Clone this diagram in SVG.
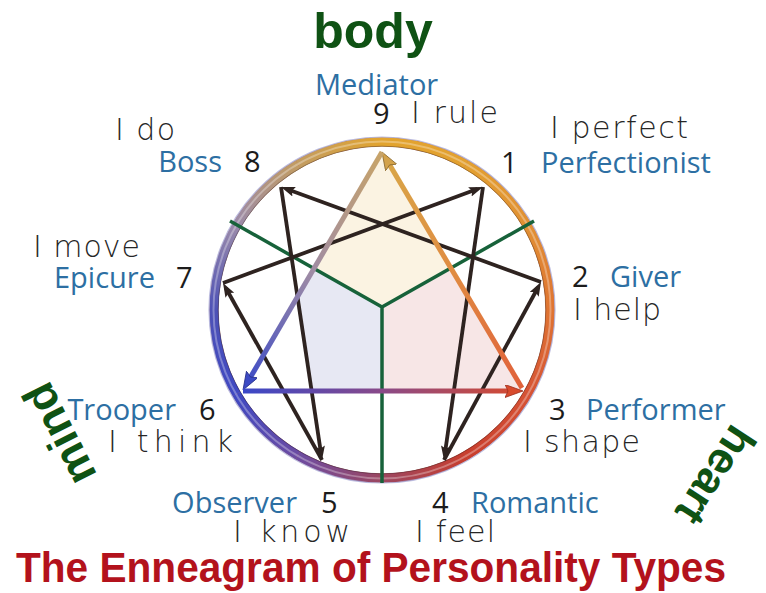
<svg xmlns="http://www.w3.org/2000/svg" width="766" height="593" viewBox="0 0 766 593">
<style>
.lbl{font-family:"Open Sans","Liberation Sans",sans-serif;font-size:29px;fill:#2d6fa3}
.num{font-family:"Open Sans","Liberation Sans",sans-serif;font-size:29px;fill:#1c1c1c}
.hw{font-family:"DejaVu Sans","Liberation Sans",sans-serif;font-weight:200;font-size:30px;fill:#262626}
.big{font-family:"Liberation Sans","Open Sans",sans-serif;font-weight:bold;fill:#0f5214}
.hex{fill:none;stroke:#2e2320;stroke-width:3.8;marker-end:url(#ah)}
.tri{fill:none;stroke-width:5}
.seg{fill:none;stroke-width:9}
</style>
<defs>
<marker id="ah" markerUnits="userSpaceOnUse" markerWidth="16" markerHeight="12" refX="8" refY="5" orient="auto"><path d="M0,0 L14,5 L0,10 L2.5,5 z" fill="#2e2320"/></marker>
<marker id="ahGold" markerUnits="userSpaceOnUse" markerWidth="20" markerHeight="14" refX="10" refY="6.5" orient="auto"><path d="M0,0 L18,6.5 L0,13 L3,6.5 z" fill="#d3a24a" stroke="#8a6a30" stroke-width="0.8"/></marker>
<marker id="ahBlue" markerUnits="userSpaceOnUse" markerWidth="20" markerHeight="14" refX="10" refY="6.5" orient="auto"><path d="M0,0 L18,6.5 L0,13 L3,6.5 z" fill="#3c4ac4" stroke="#28308a" stroke-width="0.8"/></marker>
<marker id="ahRed" markerUnits="userSpaceOnUse" markerWidth="20" markerHeight="14" refX="10" refY="6.5" orient="auto"><path d="M0,0 L18,6.5 L0,13 L3,6.5 z" fill="#d84a2c" stroke="#9a3020" stroke-width="0.8"/></marker>
<linearGradient id="g39" gradientUnits="userSpaceOnUse" x1="522" y1="388" x2="382" y2="152"><stop offset="0" stop-color="#e0603a"/><stop offset="0.5" stop-color="#e08c42"/><stop offset="1" stop-color="#d8a848"/></linearGradient>
<linearGradient id="g96" gradientUnits="userSpaceOnUse" x1="382" y1="152" x2="243" y2="390"><stop offset="0" stop-color="#c8a468"/><stop offset="0.5" stop-color="#a08ca4"/><stop offset="1" stop-color="#3848c8"/></linearGradient>
<linearGradient id="g63" gradientUnits="userSpaceOnUse" x1="243" y1="391" x2="523" y2="391"><stop offset="0" stop-color="#3a48c8"/><stop offset="0.5" stop-color="#8a4a88"/><stop offset="1" stop-color="#d84a2c"/></linearGradient>
<linearGradient id="r0" gradientUnits="userSpaceOnUse" x1="382" y1="142" x2="466" y2="164.51"><stop offset="0" stop-color="#e2a42e"/><stop offset="1" stop-color="#e3a030"/></linearGradient>
<linearGradient id="r1" gradientUnits="userSpaceOnUse" x1="466" y1="164.51" x2="527.49" y2="226"><stop offset="0" stop-color="#e3a030"/><stop offset="1" stop-color="#e19034"/></linearGradient>
<linearGradient id="r2" gradientUnits="userSpaceOnUse" x1="527.49" y1="226" x2="550" y2="310"><stop offset="0" stop-color="#e19034"/><stop offset="1" stop-color="#df7432"/></linearGradient>
<linearGradient id="r3" gradientUnits="userSpaceOnUse" x1="550" y1="310" x2="527.49" y2="394"><stop offset="0" stop-color="#df7432"/><stop offset="1" stop-color="#d65234"/></linearGradient>
<linearGradient id="r4" gradientUnits="userSpaceOnUse" x1="527.49" y1="394" x2="466" y2="455.49"><stop offset="0" stop-color="#d65234"/><stop offset="1" stop-color="#c83e2e"/></linearGradient>
<linearGradient id="r5" gradientUnits="userSpaceOnUse" x1="466" y1="455.49" x2="382" y2="478"><stop offset="0" stop-color="#c83e2e"/><stop offset="1" stop-color="#9c4660"/></linearGradient>
<linearGradient id="r6" gradientUnits="userSpaceOnUse" x1="382" y1="478" x2="298" y2="455.49"><stop offset="0" stop-color="#9c4660"/><stop offset="1" stop-color="#6c4ca2"/></linearGradient>
<linearGradient id="r7" gradientUnits="userSpaceOnUse" x1="298" y1="455.49" x2="236.51" y2="394"><stop offset="0" stop-color="#6c4ca2"/><stop offset="1" stop-color="#3f48c2"/></linearGradient>
<linearGradient id="r8" gradientUnits="userSpaceOnUse" x1="236.51" y1="394" x2="214" y2="310"><stop offset="0" stop-color="#3f48c2"/><stop offset="1" stop-color="#4e52b6"/></linearGradient>
<linearGradient id="r9" gradientUnits="userSpaceOnUse" x1="214" y1="310" x2="236.51" y2="226"><stop offset="0" stop-color="#4e52b6"/><stop offset="1" stop-color="#9a8aaa"/></linearGradient>
<linearGradient id="r10" gradientUnits="userSpaceOnUse" x1="236.51" y1="226" x2="298" y2="164.51"><stop offset="0" stop-color="#9a8aaa"/><stop offset="1" stop-color="#c29c62"/></linearGradient>
<linearGradient id="r11" gradientUnits="userSpaceOnUse" x1="298" y1="164.51" x2="382" y2="142"><stop offset="0" stop-color="#c29c62"/><stop offset="1" stop-color="#e2a42e"/></linearGradient>
</defs>
<rect width="766" height="593" fill="#ffffff"/>

<g id="tint">
<polygon points="382,152 450,268 382,307 314,268" fill="#fbf3e2"/>
<polygon points="314,268 382,307 382,390 311.5,390 297.5,297" fill="#e7e8f3"/>
<polygon points="450,268 522,390 382,390 382,307" fill="#f7e6e6"/>
</g>

<g id="ring">
<circle cx="382" cy="310" r="168" fill="none" stroke="#b06a5a" stroke-width="9"/>
<path class="seg" stroke="url(#r0)" d="M382,142 A168,168 0 0 1 466,164.51"/>
<path class="seg" stroke="url(#r1)" d="M466,164.51 A168,168 0 0 1 527.49,226"/>
<path class="seg" stroke="url(#r2)" d="M527.49,226 A168,168 0 0 1 550,310"/>
<path class="seg" stroke="url(#r3)" d="M550,310 A168,168 0 0 1 527.49,394"/>
<path class="seg" stroke="url(#r4)" d="M527.49,394 A168,168 0 0 1 466,455.49"/>
<path class="seg" stroke="url(#r5)" d="M466,455.49 A168,168 0 0 1 382,478"/>
<path class="seg" stroke="url(#r6)" d="M382,478 A168,168 0 0 1 298,455.49"/>
<path class="seg" stroke="url(#r7)" d="M298,455.49 A168,168 0 0 1 236.51,394"/>
<path class="seg" stroke="url(#r8)" d="M236.51,394 A168,168 0 0 1 214,310"/>
<path class="seg" stroke="url(#r9)" d="M214,310 A168,168 0 0 1 236.51,226"/>
<path class="seg" stroke="url(#r10)" d="M236.51,226 A168,168 0 0 1 298,164.51"/>
<path class="seg" stroke="url(#r11)" d="M298,164.51 A168,168 0 0 1 382,142"/>
<circle cx="382" cy="310" r="168.5" fill="none" stroke="#ffffff" stroke-opacity="0.3" stroke-width="2"/>
<circle cx="382" cy="310" r="163.8" fill="none" stroke="#000000" stroke-opacity="0.25" stroke-width="1"/>
<circle cx="382" cy="310" r="173" fill="none" stroke="#9c9cd0" stroke-opacity="0.7" stroke-width="1.2"/>
</g>

<g id="centers" fill="none" stroke="#17623a" stroke-width="3.5">
<path d="M382,307 L230,221 M382,307 L534,221 M382,307 L382,483"/>
</g>

<g id="connectors">
<path class="hex" d="M483,187 L444.85,454.06"/>
<path class="hex" d="M444,460 L538.13,287.27"/>
<path class="hex" d="M541,282 L286.64,189.06"/>
<path class="hex" d="M281,187 L321.11,454.07"/>
<path class="hex" d="M322,460 L225.93,288.24"/>
<path class="hex" d="M223,283 L477.37,189.08"/>
<path class="tri" stroke="url(#g39)" marker-end="url(#ahGold)" d="M522,388 L386.08,158.88"/>
<path class="tri" stroke="url(#g96)" marker-end="url(#ahBlue)" d="M382,152 L247.04,383.09"/>
<path class="tri" stroke="url(#g63)" marker-end="url(#ahRed)" d="M243,391 L515,391"/>
</g>

<g id="type9">
<text class="lbl" x="315" y="95">Mediator</text>
<text class="num" x="373" y="124">9</text>
<text class="hw" x="411" y="123" textLength="87">I rule</text>
</g>
<g id="type1">
<text class="num" x="501" y="173">1</text>
<text class="lbl" x="541" y="173">Perfectionist</text>
<text class="hw" x="550" y="138" textLength="138">I perfect</text>
</g>
<g id="type2">
<text class="num" x="572" y="287">2</text>
<text class="lbl" x="610" y="287">Giver</text>
<text class="hw" x="573" y="320" textLength="88">I help</text>
</g>
<g id="type3">
<text class="num" x="549" y="420">3</text>
<text class="lbl" x="586" y="420">Performer</text>
<text class="hw" x="523" y="452" textLength="117">I shape</text>
</g>
<g id="type4">
<text class="num" x="432" y="513">4</text>
<text class="lbl" x="471" y="513">Romantic</text>
<text class="hw" x="415" y="542" textLength="80">I feel</text>
</g>
<g id="type5">
<text class="lbl" x="297" y="513" text-anchor="end">Observer</text>
<text class="num" x="321" y="513">5</text>
<text class="hw" x="233" y="542" textLength="117">I know</text>
</g>
<g id="type6">
<text class="lbl" x="176" y="420" text-anchor="end">Trooper</text>
<text class="num" x="199" y="420">6</text>
<text class="hw" x="108" y="452" textLength="125">I think</text>
</g>
<g id="type7">
<text class="lbl" x="155" y="288" text-anchor="end">Epicure</text>
<text class="num" x="176" y="288">7</text>
<text class="hw" x="33" y="257" textLength="107">I move</text>
</g>
<g id="type8">
<text class="lbl" x="222" y="172" text-anchor="end">Boss</text>
<text class="num" x="244" y="172">8</text>
<text class="hw" x="115" y="140" textLength="60">I do</text>
</g>

<g id="centers-labels">
<text class="big" x="373" y="48" font-size="50" text-anchor="middle">body</text>
<text class="big" font-size="45" text-anchor="middle" transform="translate(73,427) rotate(-117)">mind</text>
<text class="big" font-size="44" text-anchor="middle" transform="translate(703,467) rotate(123)">heart</text>
</g>

<g id="title">
<text x="16" y="582" font-family="Liberation Sans, Open Sans, sans-serif" font-weight="bold" font-size="42" fill="#b3121c" textLength="710" lengthAdjust="spacingAndGlyphs">The Enneagram of Personality Types</text>
</g>
</svg>
